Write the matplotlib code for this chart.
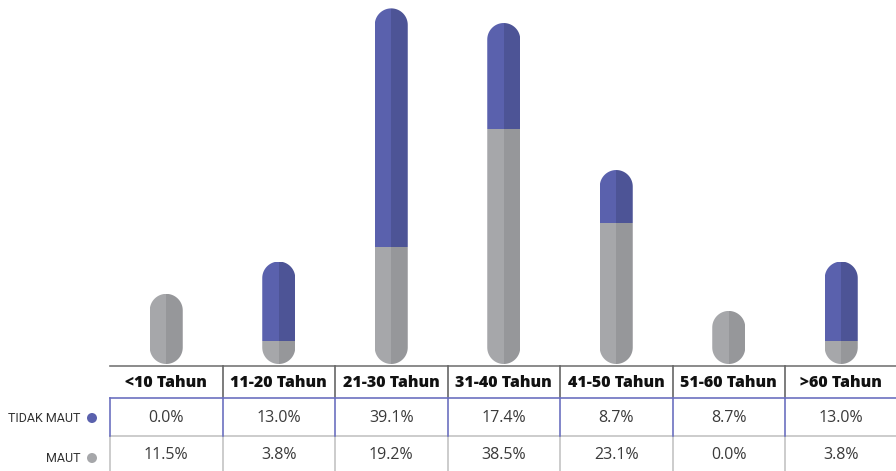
import numpy as np
import matplotlib.pyplot as plt
from matplotlib.patches import Polygon, Rectangle, Circle

categories = ["<10 Tahun", "11-20 Tahun", "21-30 Tahun", "31-40 Tahun",
              "41-50 Tahun", "51-60 Tahun", ">60 Tahun"]
tidak_maut = [0.0, 13.0, 39.1, 17.4, 8.7, 8.7, 13.0]
maut = [11.5, 3.8, 19.2, 38.5, 23.1, 0.0, 3.8]

# segments drawn in each capsule (grey bottom, blue top)
bar_grey = [11.5, 3.8, 19.2, 38.5, 23.1, 8.7, 3.8]
bar_blue = [0.0, 13.0, 39.1, 17.4, 8.7, 0.0, 13.0]

BLUE_L, BLUE_R = "#5a61ad", "#4d5496"
GREY_L, GREY_R = "#a6a7aa", "#96979a"

W, H = 896, 471
PX_PER_PCT = 6.1
BAR_BOTTOM = 364
COL_W = 112.5
BAR_W = 33.0


def capsule(xc, hw, ry, total):
    # outline of a pill: half-circle ends, straight sides
    t = np.linspace(0, np.pi, 40)
    top = np.column_stack([xc + hw * np.cos(t), total - ry + ry * np.sin(t)])
    bot = np.column_stack([xc - hw * np.cos(t), ry - ry * np.sin(t)])
    return np.vstack([top, bot])


def main():
    fig = plt.figure(figsize=(W / 100, H / 100), dpi=100)

    # bar axes: x = category index, y = percent
    ax = fig.add_axes([110 / W, (H - BAR_BOTTOM) / H, 7 * COL_W / W, BAR_BOTTOM / H])
    ax.set_xlim(-0.5, 6.5)
    ax.set_ylim(0, BAR_BOTTOM / PX_PER_PCT)
    ax.axis("off")

    hw = BAR_W / COL_W / 2
    ry = (BAR_W / 2) / PX_PER_PCT
    for i in range(len(categories)):
        total = bar_grey[i] + bar_blue[i]
        cap = Polygon(capsule(i, hw, ry, total), closed=True,
                      facecolor="none", edgecolor="none")
        ax.add_patch(cap)
        segs = [(0, bar_grey[i], GREY_L, GREY_R),
                (bar_grey[i], bar_blue[i], BLUE_L, BLUE_R)]
        for y0, h, cl, cr in segs:
            if h <= 0:
                continue
            for x0, c in [(i - hw, cl), (i, cr)]:
                rect = Rectangle((x0, y0), hw, h, facecolor=c,
                                 edgecolor="none", antialiased=False)
                ax.add_patch(rect)
                rect.set_clip_path(cap)

    # table axes: x shared with the bars, y in pixel rows
    tab = fig.add_axes([110 / W, 0, 7 * COL_W / W, (H - BAR_BOTTOM) / H])
    tab.set_xlim(-0.5, 6.5)
    tab.set_ylim(H, BAR_BOTTOM)
    tab.axis("off")

    top, row1, row2, bottom = 366.5, 398, 436.5, H + 5
    n = len(categories)
    tab.plot([-0.5, 6.6], [top, top], color="#777777", lw=1.2, clip_on=False)
    for i in range(n - 1):
        tab.plot([i + 0.5, i + 0.5], [top, row1], color="#666666", lw=1.2)
    for i in range(n + 1):
        tab.plot([i - 0.5, i - 0.5], [row2, bottom], color="#c4c4c4", lw=1.2,
                 clip_on=False)
    tab.plot([-0.5, 6.6], [row2, row2], color="#c4c4c4", lw=1.2, clip_on=False)
    for i in range(n + 1):
        tab.plot([i - 0.5, i - 0.5], [row1, row2], color="#6c71c0", lw=1.2,
                 clip_on=False)
    tab.plot([-0.5, 6.6], [row1, row1], color="#6c71c0", lw=1.2, clip_on=False)

    for i, name in enumerate(categories):
        tab.text(i, (top + row1) / 2 + 1, name, ha="center", va="center",
                 fontsize=11.5, fontweight=800, family="Open Sans",
                 color="#111111")
        tab.text(i, (row1 + row2) / 2 + 1, f"{tidak_maut[i]:.1f}%",
                 ha="center", va="center", fontsize=11.5, family="Open Sans",
                 color="#3a3a3a")
        tab.text(i, (row2 + H) / 2 + 1, f"{maut[i]:.1f}%",
                 ha="center", va="center", fontsize=11.5, family="Open Sans",
                 color="#3a3a3a")

    # row labels with colour dots
    fig.text(80 / W, 1 - 419 / H, "TIDAK MAUT", ha="right", va="center",
             fontsize=9.0, family="Roboto", color="#333333")
    fig.text(80 / W, 1 - 459 / H, "MAUT", ha="right", va="center",
             fontsize=9.0, family="Roboto", color="#333333")
    for y, c in [(418, "#5a61ad"), (458, "#a6a7aa")]:
        fig.patches.append(Circle((92, H - y), 5, transform=None,
                                  facecolor=c, edgecolor="none"))

    fig.savefig("out.png", dpi=100)


if __name__ == "__main__":
    main()
